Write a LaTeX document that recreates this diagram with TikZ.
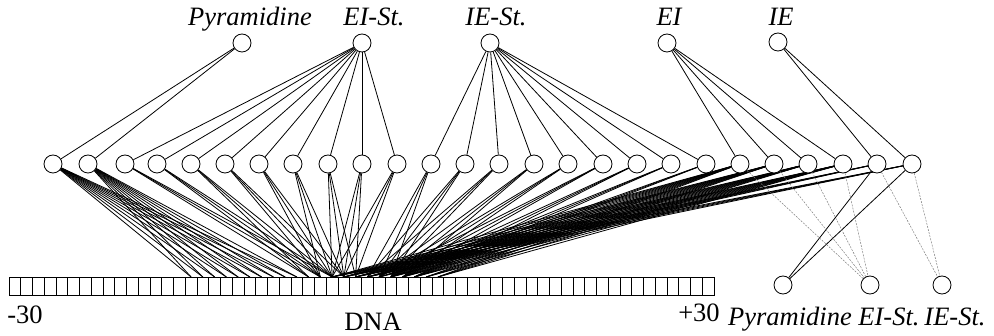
\documentclass[tikz,border=0pt]{standalone}
\usepackage{fontspec}
\setmainfont{Liberation Serif}
\usetikzlibrary{backgrounds}
\begin{document}
\begin{tikzpicture}[x=1pt,y=-1pt,
  unit/.style={circle,draw,line width=0.8pt,minimum size=18pt,inner sep=0pt,fill=white},
  dnabox/.style={draw,line width=0.8pt,minimum width=11.75pt,minimum height=18pt,inner sep=0pt,outer sep=0pt,fill=white},
  link/.style={line width=0.8pt},
  weak/.style={line width=0.5pt,gray,dash pattern=on 2pt off 1.2pt},
  lab/.style={font=\fontsize{26.5}{30}\selectfont\itshape,anchor=base,inner sep=0pt},
  rlab/.style={font=\fontsize{26.5}{30}\selectfont,anchor=base,inner sep=0pt}]
\useasboundingbox (0,0) rectangle (994,336);

% DNA boxes
\foreach \i in {0,...,59}
  \node[dnabox] (d\i) at ({9+11.75*(\i+0.5)},286) {};

% hidden units
\foreach \x [count=\k] in {53,88,125,157,191,225,259,293,328,362,397,431,465,499,534,568,603,637,671,706,740,774,808,843,877,912}
  \node[unit] (h\k) at (\x,164) {};

% top units
\node[unit] (t1) at (242,43) {};
\node[unit] (t2) at (362,43) {};
\node[unit] (t3) at (490,43) {};
\node[unit] (t4) at (667,43) {};
\node[unit] (t5) at (778,42) {};

% output units
\node[unit] (o1) at (783,285) {};
\node[unit] (o2) at (870,285) {};
\node[unit] (o3) at (942,285) {};

% labels
\node[lab] (lt1) at (250,26) {Pyramidine};
\node[lab] (lt2) at (374,26) {EI-St.};
\node[lab] (lt3) at (496,26) {IE-St.};
\node[lab] (lt4) at (669,26) {EI};
\node[lab] (lt5) at (781,26) {IE};
\node[lab] (lo1) at (790,326) {Pyramidine};
\node[lab] (lo2) at (889,326) {EI-St.};
\node[lab] (lo3) at (955,326) {IE-St.};
\node[rlab] (lm) at (25,324) {-30};
\node[rlab] (lp) at (699,322) {+30};
\node[rlab] (ldna) at (373,331) {DNA};

\begin{scope}[on background layer]
  % top to hidden
  \foreach \k in {1,2} \draw[link] (t1) -- (h\k);
  \foreach \k in {3,...,11} \draw[link] (t2) -- (h\k);
  \foreach \k in {12,...,20} \draw[link] (t3) -- (h\k);
  \foreach \k in {21,...,24} \draw[link] (t4) -- (h\k);
  \foreach \k in {25,26} \draw[link] (t5) -- (h\k);
  % hidden to DNA
  \foreach \k in {1,2}
    \foreach \i in {15,...,24} \draw[link] (h\k) -- (d\i.north);
  \foreach \k/\s in {3/25,4/25,5/25,6/26,7/26,8/26,9/27,10/27,11/27,
                     12/30,13/30,14/30,15/31,16/31,17/31,18/32,19/32,20/32}
    \foreach \j in {0,1,2} {
      \pgfmathtruncatemacro\t{\s+\j}
      \draw[link] (h\k) -- (d\t.north);
    }
  \foreach \k in {21,...,24}
    \foreach \i in {27,...,36} \draw[link] (h\k) -- (d\i.north);
  \foreach \k in {25,26}
    \foreach \i in {27,...,30} \draw[link] (h\k) -- (d\i.north);
  % hidden to outputs
  \draw[link] (h25) -- (o1);
  \draw[link] (h26) -- (o1);
  \foreach \k in {21,...,24} \draw[weak] (h\k) -- (o2);
  \foreach \k in {25,26} \draw[weak] (h\k) -- (o3);
\end{scope}
\end{tikzpicture}
\end{document}
